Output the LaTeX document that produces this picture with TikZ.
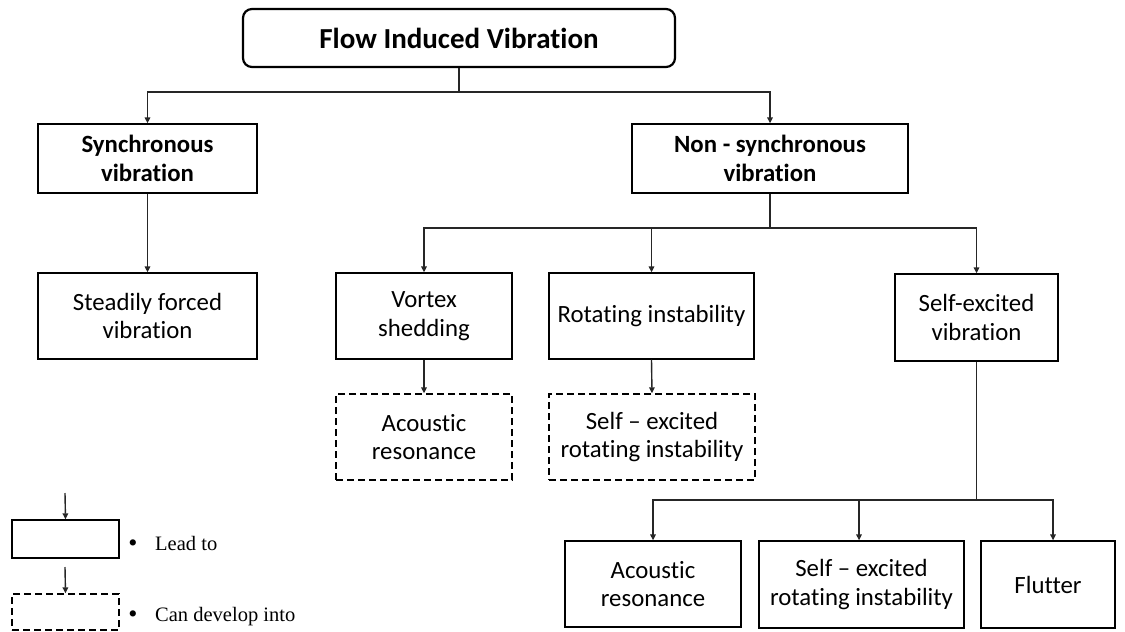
\documentclass[tikz,border=0pt]{standalone}
\usepackage{fontspec}
\setmainfont{Carlito}[Ligatures=NoCommon]
\newfontfamily\legendfont{Liberation Serif}
\usetikzlibrary{arrows.meta}
\begin{document}
\begin{tikzpicture}[x=1pt,y=-1pt,
  box/.style={draw=black, line width=1.3pt, align=center, inner sep=0pt,
    font=\fontsize{24.8}{28.5}\selectfont},
  boldbox/.style={box, font=\bfseries\fontsize{24.8}{29}\selectfont},
  dashbox/.style={box, dash pattern=on 7pt off 4pt},
  titlebox/.style={draw=black, line width=2.2pt, rounded corners=9pt, inner sep=0pt,
    minimum width=432pt, minimum height=58pt, font=\bfseries\fontsize{29}{33}\selectfont},
  conn/.style={draw=black!85, line width=1.4pt, line join=miter},
  arr/.style={conn, -{Triangle[length=6pt,width=5.5pt]}},
  legendtext/.style={font=\legendfont\fontsize{20.5}{24}\selectfont, inner sep=0pt}
]
\useasboundingbox (0,0) rectangle (1125,632);

% top level
\node[titlebox] (fiv) at (459,38) {Flow Induced Vibration};

% second level
\node[boldbox, minimum width=219pt, minimum height=69pt] (syn) at (147.5,158.5) {Synchronous\\vibration};
\node[boldbox, minimum width=276pt, minimum height=69pt] (nsv) at (770,158.5) {Non - synchronous\\vibration};

% third level
\node[box, minimum width=219pt, minimum height=86pt] (sfv) at (147.5,316) {Steadily forced\\vibration};
\node[box, minimum width=176pt, minimum height=86pt] (vs) at (424,316) {Vortex\\shedding};
\node[box, minimum width=205pt, minimum height=86pt] (ri) at (651.5,316) {Rotating instability};
\node[box, minimum width=163pt, minimum height=87pt] (sev) at (976.5,317.5) {Self-excited\\vibration};

% possible developments
\node[dashbox, minimum width=176pt, minimum height=86pt] (ar1) at (424,437) {Acoustic\\resonance};
\node[dashbox, minimum width=206pt, minimum height=86pt] (sri1) at (652,437) {Self -- excited\\rotating instability};

% consequences of self-excited vibration
\node[box, minimum width=176pt, minimum height=86pt] (ar2) at (653,584) {Acoustic\\resonance};
\node[box, minimum width=205pt, minimum height=87pt] (sri2) at (861.5,584.5) {Self -- excited\\rotating instability};
\node[box, minimum width=134pt, minimum height=87pt] (fl) at (1048,584.5) {Flutter};

% connectors
\coordinate (j0) at (459,92);
\draw[conn] (fiv.south) -- (j0);
\draw[arr] (j0) -| (syn.north);
\draw[arr] (j0) -| (nsv.north);
\draw[arr] (syn.south) -- (sfv.north);

\coordinate (j1) at (770,228);
\draw[conn] (nsv.south) -- (j1);
\draw[arr] (j1) -| (vs.north);
\draw[arr] (j1) -| (ri.north);
\draw[arr] (j1) -| (sev.north);
\draw[arr] (vs.south) -- (ar1.north);
\draw[arr] (ri.south) -- (sri1.north);

\coordinate (j2) at (976.5,500);
\draw[conn] (sev.south) -- (j2);
\draw[arr] (j2) -| (ar2.north);
\draw[arr] (j2) -| ([xshift=-2.5pt]sri2.north);
\draw[arr] (j2) -| ([xshift=5pt]fl.north);

% legend
\node[box, minimum width=107pt, minimum height=38pt] (lg1) at (65.5,539) {};
\coordinate (lg1in) at (65,493);
\draw[arr] (lg1in) -- (lg1.north);
\node[legendtext, font=\legendfont\fontsize{26}{28}\selectfont, anchor=base] (b1) at (133,551) {\textbullet};
\node[legendtext, anchor=base west] (t1) at (155,550) {Lead to};

\node[dashbox, minimum width=107pt, minimum height=36pt] (lg2) at (65.5,612) {};
\coordinate (lg2in) at (65,567);
\draw[arr] (lg2in) -- (lg2.north);
\node[legendtext, font=\legendfont\fontsize{26}{28}\selectfont, anchor=base] (b2) at (133,622) {\textbullet};
\node[legendtext, anchor=base west] (t2) at (155,621) {Can develop into};
\end{tikzpicture}
\end{document}
